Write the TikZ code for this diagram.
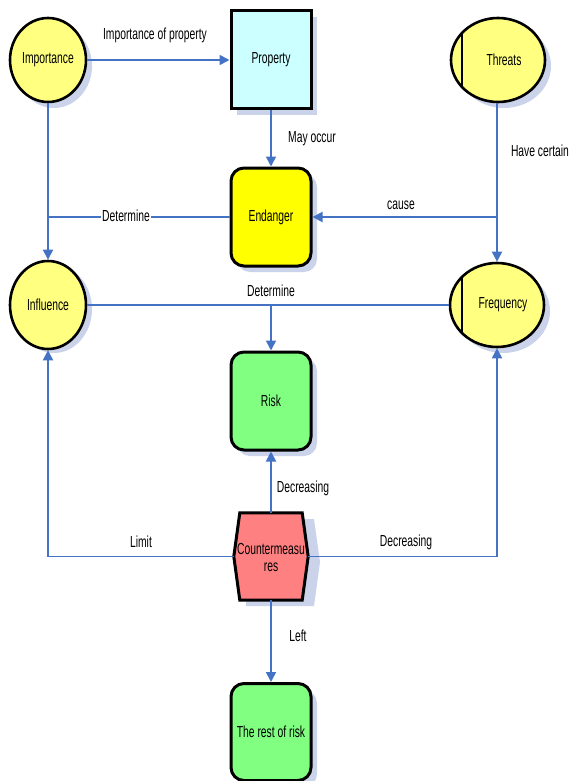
\documentclass[tikz,border=0pt]{standalone}
\usepackage{fontspec}
\setmainfont{Liberation Sans}[FakeStretch=0.645]
\usetikzlibrary{arrows.meta,shapes.geometric,calc,backgrounds}
\definecolor{edgec}{HTML}{4472C4}
\definecolor{shadec}{HTML}{CAD3EA}
\definecolor{circfill}{HTML}{FFFF80}
\definecolor{propfill}{HTML}{CCFFFF}
\definecolor{endfill}{HTML}{FFFF00}
\definecolor{riskfill}{HTML}{80FF80}
\definecolor{cmfill}{HTML}{FF8080}
\tikzset{
  circ/.style={ellipse, draw, line width=2.6pt, fill=circfill, minimum width=76pt, minimum height=84pt, inner sep=0pt},
  bigcirc/.style={circ, minimum width=94pt, minimum height=84pt},
  boxsq/.style={rectangle, draw, line width=3pt, minimum width=80pt, minimum height=98pt, inner sep=0pt},
  boxrd/.style={boxsq, rounded corners=13pt},
  conn/.style={draw=edgec, line width=1.8pt, -{Triangle[length=10pt,width=10pt]}},
  plain/.style={draw=edgec, line width=1.8pt},
  lab/.style={inner sep=1pt, font=\fontsize{16}{18}\selectfont},
  shad/.style={fill=shadec},
}
\begin{document}
\begin{tikzpicture}[x=1pt,y=-1pt, every node/.append style={font=\fontsize{16}{18}\selectfont}]
\useasboundingbox (0,0) rectangle (569,781);
% shadows
\fill[shad] (54,66) ellipse [x radius=38, y radius=42];
\fill[shad] (54,309) ellipse [x radius=38, y radius=44];
\fill[shad] (504,66) ellipse [x radius=47, y radius=42];
\fill[shad] (503,311) ellipse [x radius=47, y radius=42];
\fill[shad] (237,17) rectangle (317,115);
\fill[shad, rounded corners=13pt] (237,174) rectangle (317,272);
\fill[shad, rounded corners=13pt] (237,358) rectangle (317,456);
\fill[shad, rounded corners=13pt] (237,690) rectangle (317,787);
\fill[shad] (246,519) -- (314,519) -- (320,562) -- (314,606) -- (246,606) -- cycle;
% nodes
\node[circ] (imp) at (48,60) {Importance};
\node[boxsq, fill=propfill] (prop) at (271,60) {Property};
\node[bigcirc] (thr) at (498,60) {};
\node (thrt) at (504,60) {Threats};
\node[boxrd, fill=endfill] (end) at (271,217) {Endanger};
\node[circ, minimum height=88pt] (inf) at (48,305) {Influence};
\node[bigcirc] (fre) at (497,305) {};
\node (fret) at (503,305) {Frequency};
\node[boxrd, fill=riskfill] (risk) at (271,401) {Risk};
\node[boxrd, fill=riskfill, minimum height=97pt] (rest) at (271,732) {The rest of risk};
% countermeasures hexagon
\node[minimum width=74pt, minimum height=87pt, inner sep=0pt] (cm) at (271,556.5) {};
\draw[line width=3pt, fill=cmfill, line join=miter]
  ($(cm.north west)+(6,0)$) -- ($(cm.north east)+(-6,0)$) -- (cm.east) -- ($(cm.south east)+(-6,0)$) -- ($(cm.south west)+(6,0)$) -- (cm.west) -- cycle;
\node[align=center, inner sep=0pt, font=\fontsize{16}{17}\selectfont] (cmt) at (271,557) {Countermeasu\\res};
% inner vertical bars
\draw[line width=2.6pt] ($(thr.center)+(-36,-26.5)$) -- ($(thr.center)+(-36,26.5)$);
\draw[line width=2.6pt] ($(fre.center)+(-35,-28)$) -- ($(fre.center)+(-35,28)$);
% connectors
\draw[conn] (imp) -- (prop);
\node[lab] (l1) at (155,35) {Importance of property};
\draw[conn] (prop) -- (end);
\node[lab] (l2) at (312,139) {May occur};
\draw[conn] (thr.south -| fre.center) -- (fre.north);
\node[lab] (l3) at (540,151) {Have certain};
\coordinate (tj) at (fre.center |- end.east);
\draw[conn] (tj) -- (end.east);
\node[lab] (l4) at (401,205) {cause};
\coordinate (ij) at (imp.center |- end.west);
\draw[plain] (end.west) -- (ij);
\node[lab, fill=white] (l5) at (126,216) {Determine};
\draw[conn] (imp) -- (inf);
\draw[plain] (inf) -- (fre);
\node[lab] (l6) at (271,291) {Determine};
\coordinate (rj) at (risk.north |- inf.east);
\draw[conn] (rj) -- (risk.north);
\draw[conn] (cm.north) -- (risk.south);
\node[lab] (l7) at (303,488) {Decreasing};
\draw[conn] (cm.west) -| (inf.south);
\node[lab] (l8) at (141,542) {Limit};
\draw[conn] (cm.east) -| (fre.south);
\node[lab] (l9) at (406,542) {Decreasing};
\draw[conn] (cm.south) -- (rest.north);
\node[lab] (l10) at (298,636) {Left};
\end{tikzpicture}
\end{document}
